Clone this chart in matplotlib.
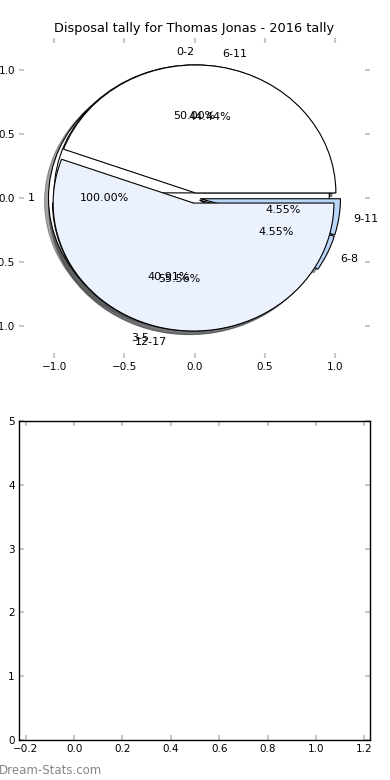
import matplotlib

matplotlib.use("Agg")  # headless backend
import matplotlib.pyplot as plt

# --- data ------------------------------------------------------------------
title = "Disposal tally for Thomas Jonas - 2016 tally"

# three overlaid pies, drawn in this order
single_labels = ["1"]
single_counts = [1]

group_labels = ["0-2", "3-5", "6-8", "9-11"]
group_counts = [11, 9, 1, 1]

range_labels = ["6-11", "12-17"]
range_counts = [4, 5]

pie_colors = ["#ffffff", "#ebf2fd", "#b9d5f8", "#b9d5f8"]

pie_ticks = [-1.0, -0.5, 0.0, 0.5, 1.0]
bar_xticks = [-0.2, 0.0, 0.2, 0.4, 0.6, 0.8, 1.0, 1.2]
bar_yticks = [0, 1, 2, 3, 4, 5]

W, H = 390, 780
fig = plt.figure(figsize=(W / 100, H / 100), dpi=100)

tick_style = dict(direction="in", length=3.5, width=1.5, color="#c8c8c8",
                  labelcolor="black", labelsize=7.5, top=True, right=True, pad=3)

# --- top: pies -------------------------------------------------------------
ax = fig.add_axes([19 / W, 1 - 358 / H, 351 / W, 320 / H])
for counts, labels in [(single_counts, single_labels),
                       (group_counts, group_labels),
                       (range_counts, range_labels)]:
    ax.pie(counts, labels=labels, colors=pie_colors[:len(counts)],
           explode=[0.04] * len(counts), shadow=True, autopct="%.2f%%",
           wedgeprops=dict(edgecolor="black", linewidth=0.8),
           textprops=dict(fontsize=8))
ax.set_aspect("auto")
ax.set_xlim(-1.25, 1.25)
ax.set_ylim(-1.25, 1.25)
ax.set_frame_on(False)
ax.set_xticks(pie_ticks)
ax.set_yticks(pie_ticks)
ax.tick_params(**tick_style)
ax.set_title(title, fontsize=9.3, pad=4.5)

# --- bottom: empty panel ---------------------------------------------------
ax2 = fig.add_axes([19 / W, 1 - 740 / H, 351 / W, 319 / H])
ax2.set_xlim(-0.228, 1.224)
ax2.set_ylim(0, 5)
ax2.set_xticks(bar_xticks)
ax2.set_yticks(bar_yticks)
ax2.tick_params(**tick_style)
for sp in ax2.spines.values():
    sp.set_linewidth(1.0)

fig.text(-0.004, 1 - 770 / H, "Dream-Stats.com", fontsize=8.5,
         color="#858585", va="center", ha="left")

fig.savefig("out.png", dpi=100)
